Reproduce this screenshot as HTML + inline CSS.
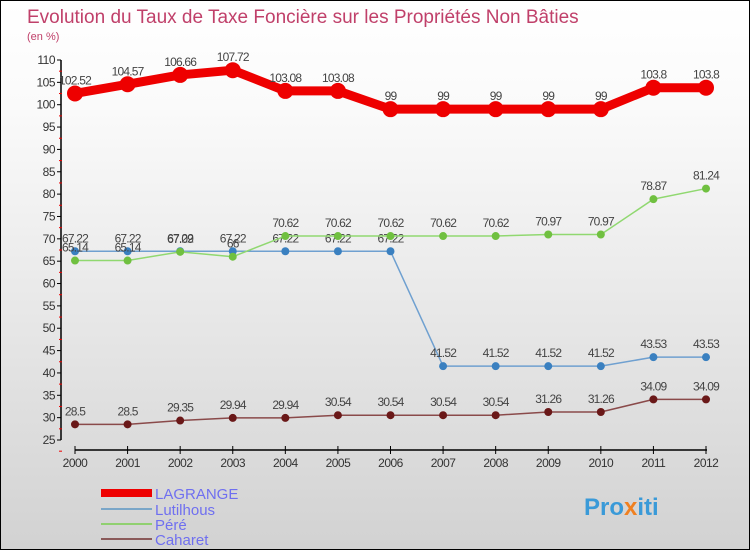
<!DOCTYPE html>
<html><head><meta charset="utf-8"><style>
body{margin:0}
#wrap{width:748px;height:548px;border:1px solid #000;background:linear-gradient(#fff,#fafafa 20%,#d2d2d2);position:relative;font-family:"Liberation Sans",sans-serif}
svg text{font-family:"Liberation Sans",sans-serif}
</style></head><body>
<div id="wrap">
<svg id="chart" width="748" height="548" xmlns="http://www.w3.org/2000/svg">
<text x="26" y="22" font-size="19" fill="#c0406a">Evolution du Taux de Taxe Foncière sur les Propriétés Non Bâties</text>
<text x="26" y="39" font-size="11" fill="#c0406a">(en %)</text>
<g id="axes"></g><g id="series"></g>
<g>
<rect x="100" y="488" width="51" height="8" fill="#e00"/>
<text x="154" y="498" font-size="15" fill="#6f6ff0">LAGRANGE</text>
<rect x="100" y="507" width="51" height="2" fill="#7aa6c8"/>
<text x="154" y="514" font-size="15" fill="#6f6ff0">Lutilhous</text>
<rect x="100" y="522" width="51" height="2" fill="#90d070"/>
<text x="154" y="529" font-size="15" fill="#6f6ff0">Péré</text>
<rect x="100" y="537" width="51" height="2" fill="#8a5a5a"/>
<text x="154" y="544" font-size="15" fill="#6f6ff0">Caharet</text>
</g>
<text x="583" y="514" font-size="24" font-weight="bold" fill="#3a9ad8">Pro<tspan fill="#f08020">x</tspan>iti</text>
</svg></div>
<script>
const years=["2000","2001","2002","2003","2004","2005","2006","2007","2008","2009","2010","2011","2012"];
const lagrange=[102.52,104.57,106.66,107.72,103.08,103.08,99,99,99,99,99,103.8,103.8];
const lutilhous=[67.22,67.22,67.22,67.22,67.22,67.22,67.22,41.52,41.52,41.52,41.52,43.53,43.53];
const pere=[65.14,65.14,67.09,66,70.62,70.62,70.62,70.62,70.62,70.97,70.97,78.87,81.24];
const caharet=[28.5,28.5,29.35,29.94,29.94,30.54,30.54,30.54,30.54,31.26,31.26,34.09,34.09];
const yTicks=[25,30,35,40,45,50,55,60,65,70,75,80,85,90,95,100,105,110];
const NS="http://www.w3.org/2000/svg";
const x=i=>74+i*(705-74)/(years.length-1);
const y=v=>59+(110-v)*(439-59)/85;
function mk(t,a,p){const e=document.createElementNS(NS,t);for(const k in a)e.setAttribute(k,a[k]);p.appendChild(e);return e;}
const ax=document.getElementById('axes');
const ya=mk('line',{x1:60,y1:y(110),x2:60,y2:y(25),stroke:'#000','stroke-width':1.5},ax);


yTicks.forEach(v=>{
 mk('line',{x1:56,y1:y(v),x2:60,y2:y(v),stroke:'#000'},ax);
 mk('line',{x1:58,y1:y(v-2.5),x2:61,y2:y(v-2.5),stroke:'#e00'},ax);
 const t=mk('text',{x:54,y:y(v)+4,'font-size':12,'text-anchor':'end',fill:'#333','letter-spacing':'-0.5'},ax);t.textContent=v;
 
 
});
const xa=mk('line',{x1:74,y1:449,x2:706,y2:449,stroke:'#000','stroke-width':1.5},ax);


years.forEach((yr,i)=>{
 mk('line',{x1:x(i),y1:445,x2:x(i),y2:453,stroke:'#000'},ax);
 const t=mk('text',{x:x(i),y:466,'font-size':12,'text-anchor':'middle',fill:'#333','letter-spacing':'-0.5'},ax);t.textContent=yr;
 
 
});
const sg=document.getElementById('series');
function series(name,data,col,dot,w,r){
 const g=mk('g',{},sg);
 
 
 const pl=mk('polyline',{points:data.map((v,i)=>x(i)+','+y(v)).join(' '),fill:'none',stroke:col,'stroke-width':w,'stroke-linejoin':'round'},g);
 
 
 data.forEach((v,i)=>{
  const c=mk('circle',{cx:x(i),cy:y(v),r:r,fill:dot},g);
  
  
  const t=mk('text',{x:x(i),y:y(v)-9,'font-size':12,'text-anchor':'middle',fill:'#444','letter-spacing':'-0.8'},g);t.textContent=v;
  
  
 });
}
series('caharet',caharet,'#8a4a4a','#6a1818',1.5,4);
series('lutilhous',lutilhous,'#6fa0d0','#3a80c0',1.5,4);
series('pere',pere,'#90d870','#70c040',1.5,4);
series('lagrange',lagrange,'#e00','#e00',9,8);
</script>
</body></html>
